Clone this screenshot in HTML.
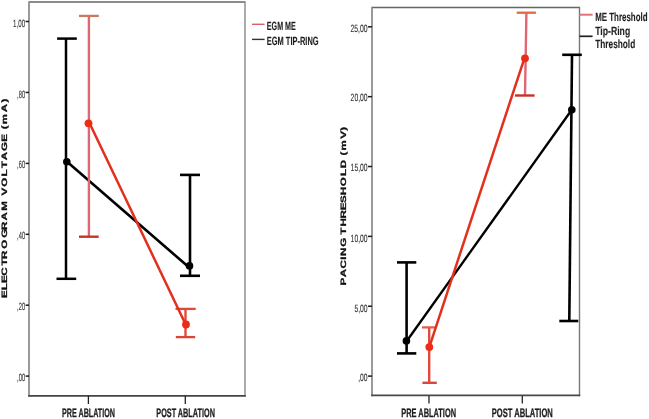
<!DOCTYPE html>
<html><head><meta charset="utf-8">
<style>
html,body{margin:0;padding:0;background:#fff;width:649px;height:419px;overflow:hidden}
svg{display:block;will-change:transform;filter:blur(0.3px)}
text{font-family:"Liberation Sans",sans-serif;text-rendering:geometricPrecision}
</style></head>
<body>
<svg width="649" height="419" viewBox="0 0 649 419">
<line x1="29" y1="1.9" x2="245" y2="1.9" stroke="#666" stroke-width="1.5"/>
<line x1="29" y1="1.2" x2="29" y2="396.6" stroke="#888" stroke-width="1.7"/>
<line x1="245" y1="1.2" x2="245" y2="396.6" stroke="#909090" stroke-width="1.5"/>
<line x1="28.2" y1="395.8" x2="245.8" y2="395.8" stroke="#444" stroke-width="1.8"/>
<line x1="25.6" y1="21.5" x2="29" y2="21.5" stroke="#1a1a1a" stroke-width="1.5"/>
<line x1="25.6" y1="92.45" x2="29" y2="92.45" stroke="#1a1a1a" stroke-width="1.5"/>
<line x1="25.6" y1="163.4" x2="29" y2="163.4" stroke="#1a1a1a" stroke-width="1.5"/>
<line x1="25.6" y1="234.3" x2="29" y2="234.3" stroke="#1a1a1a" stroke-width="1.5"/>
<line x1="25.6" y1="305.2" x2="29" y2="305.2" stroke="#1a1a1a" stroke-width="1.5"/>
<line x1="25.6" y1="376.1" x2="29" y2="376.1" stroke="#1a1a1a" stroke-width="1.5"/>
<line x1="88.4" y1="396" x2="88.4" y2="404" stroke="#222" stroke-width="1.3"/>
<line x1="185.3" y1="396" x2="185.3" y2="404" stroke="#222" stroke-width="1.3"/>
<text transform="translate(25.1,27.0) scale(0.6,1)" font-size="10.5" font-weight="normal" fill="#333" text-anchor="end" textLength="20.00" lengthAdjust="spacingAndGlyphs" stroke="#333" stroke-width="0.12">1,00</text>
<text transform="translate(25.1,97.9) scale(0.6,1)" font-size="10.5" font-weight="normal" fill="#333" text-anchor="end" textLength="13.33" lengthAdjust="spacingAndGlyphs" stroke="#333" stroke-width="0.12">,80</text>
<text transform="translate(25.1,168.4) scale(0.6,1)" font-size="10.5" font-weight="normal" fill="#333" text-anchor="end" textLength="13.33" lengthAdjust="spacingAndGlyphs" stroke="#333" stroke-width="0.12">,60</text>
<text transform="translate(25.1,239.3) scale(0.6,1)" font-size="10.5" font-weight="normal" fill="#333" text-anchor="end" textLength="13.33" lengthAdjust="spacingAndGlyphs" stroke="#333" stroke-width="0.12">,40</text>
<text transform="translate(25.1,310.1) scale(0.6,1)" font-size="10.5" font-weight="normal" fill="#333" text-anchor="end" textLength="13.33" lengthAdjust="spacingAndGlyphs" stroke="#333" stroke-width="0.12">,20</text>
<text transform="translate(25.1,381.0) scale(0.6,1)" font-size="10.5" font-weight="normal" fill="#333" text-anchor="end" textLength="13.33" lengthAdjust="spacingAndGlyphs" stroke="#333" stroke-width="0.12">,00</text>
<text transform="translate(62,416.5) scale(0.6,1)" font-size="12.3" font-weight="bold" fill="#1e1e1e" text-anchor="start" textLength="88.33" lengthAdjust="spacingAndGlyphs" stroke="#1e1e1e" stroke-width="0.3">PRE ABLATION</text>
<text transform="translate(156.3,416.5) scale(0.6,1)" font-size="12.3" font-weight="bold" fill="#1e1e1e" text-anchor="start" textLength="97.67" lengthAdjust="spacingAndGlyphs" stroke="#1e1e1e" stroke-width="0.3">POST ABLATION</text>
<text transform="translate(6.8,300.0) scale(0.675,1) rotate(-90)" font-size="11.6" font-weight="bold" fill="#111" x="2.02 9.65 16.92 24.23 34.26 41.10 51.19 62.21 70.05 79.52 89.27 98.93 104.43 113.24 123.50 131.66 139.67 149.06 158.37 166.11 170.83 175.82 187.67 197.40" y="0" stroke="#111" stroke-width="0.4">ELECTROGRAM VOLTAGE (mA)</text>
<line x1="252" y1="24.3" x2="264.6" y2="24.3" stroke="#d8606c" stroke-width="1.4"/>
<line x1="252" y1="39.4" x2="264.6" y2="39.4" stroke="#333" stroke-width="1.4"/>
<text transform="translate(266.8,29.6) scale(0.6,1)" font-size="12" font-weight="bold" fill="#1e1e1e" text-anchor="start" textLength="48.33" lengthAdjust="spacingAndGlyphs" stroke="#1e1e1e" stroke-width="0.12">EGM ME</text>
<text transform="translate(266.8,44.6) scale(0.6,1)" font-size="12" font-weight="bold" fill="#1e1e1e" text-anchor="start" textLength="86.33" lengthAdjust="spacingAndGlyphs" stroke="#1e1e1e" stroke-width="0.12">EGM TIP-RING</text>
<line x1="66.0" y1="38.6" x2="66.0" y2="278.8" stroke="#000" stroke-width="2.5"/>
<line x1="57.1" y1="38.6" x2="76.8" y2="38.6" stroke="#000" stroke-width="2.5"/>
<line x1="56.5" y1="278.8" x2="76.2" y2="278.8" stroke="#000" stroke-width="2.5"/>
<line x1="190" y1="174.9" x2="190" y2="275.8" stroke="#000" stroke-width="2.6"/>
<line x1="180" y1="174.9" x2="200" y2="174.9" stroke="#000" stroke-width="2.6"/>
<line x1="180" y1="275.8" x2="200" y2="275.8" stroke="#000" stroke-width="2.6"/>
<line x1="66.8" y1="161.5" x2="189.5" y2="267.8" stroke="#000" stroke-width="2.6"/>
<circle cx="66.8" cy="161.7" r="3.8" fill="#000"/>
<circle cx="189.5" cy="265.9" r="3.8" fill="#000"/>
<line x1="88.9" y1="15.8" x2="88.9" y2="236.8" stroke="#e06676" stroke-width="2.4"/>
<line x1="79" y1="15.9" x2="98.8" y2="15.9" stroke="#c97a5e" stroke-width="2.3"/>
<line x1="79" y1="236.7" x2="98.7" y2="236.7" stroke="#c83422" stroke-width="2.4"/>
<line x1="185.5" y1="308.9" x2="185.5" y2="337.1" stroke="#e24a3c" stroke-width="2.4"/>
<line x1="175.5" y1="308.9" x2="195.7" y2="308.9" stroke="#dc4c3a" stroke-width="2.3"/>
<line x1="175.8" y1="337.1" x2="195.2" y2="337.1" stroke="#d8463a" stroke-width="2.3"/>
<line x1="89.6" y1="123.3" x2="185.7" y2="324.5" stroke="#e2301c" stroke-width="2.5"/>
<circle cx="88.5" cy="123.3" r="3.9" fill="#ec2c14"/>
<circle cx="186" cy="324.5" r="3.9" fill="#ec2c14"/>
<line x1="372" y1="7.5" x2="579.4" y2="7.5" stroke="#666" stroke-width="1.6"/>
<line x1="372" y1="6.7" x2="372" y2="396.3" stroke="#888" stroke-width="1.7"/>
<line x1="579.5" y1="6.7" x2="579.5" y2="396.3" stroke="#777" stroke-width="1.4"/>
<line x1="371.2" y1="395.4" x2="580.2" y2="395.4" stroke="#484848" stroke-width="1.8"/>
<line x1="368.0" y1="26.8" x2="372" y2="26.8" stroke="#1a1a1a" stroke-width="1.5"/>
<line x1="368.0" y1="96.66" x2="372" y2="96.66" stroke="#1a1a1a" stroke-width="1.5"/>
<line x1="368.0" y1="166.52" x2="372" y2="166.52" stroke="#1a1a1a" stroke-width="1.5"/>
<line x1="368.0" y1="236.38" x2="372" y2="236.38" stroke="#1a1a1a" stroke-width="1.5"/>
<line x1="368.0" y1="306.24" x2="372" y2="306.24" stroke="#1a1a1a" stroke-width="1.5"/>
<line x1="368.0" y1="376.1" x2="372" y2="376.1" stroke="#1a1a1a" stroke-width="1.5"/>
<line x1="429" y1="396" x2="429" y2="403.5" stroke="#222" stroke-width="1.3"/>
<line x1="522.3" y1="396" x2="522.3" y2="403.5" stroke="#222" stroke-width="1.3"/>
<text transform="translate(367.6,31.85) scale(0.6,1)" font-size="10.5" font-weight="normal" fill="#333" text-anchor="end" textLength="28.67" lengthAdjust="spacingAndGlyphs" stroke="#333" stroke-width="0.12">25,00</text>
<text transform="translate(367.6,101.2) scale(0.6,1)" font-size="10.5" font-weight="normal" fill="#333" text-anchor="end" textLength="28.33" lengthAdjust="spacingAndGlyphs" stroke="#333" stroke-width="0.12">20,00</text>
<text transform="translate(367.6,171.2) scale(0.6,1)" font-size="10.5" font-weight="normal" fill="#333" text-anchor="end" textLength="28.33" lengthAdjust="spacingAndGlyphs" stroke="#333" stroke-width="0.12">15,00</text>
<text transform="translate(367.6,242.1) scale(0.6,1)" font-size="10.5" font-weight="normal" fill="#333" text-anchor="end" textLength="28.33" lengthAdjust="spacingAndGlyphs" stroke="#333" stroke-width="0.12">10,00</text>
<text transform="translate(367.6,312.1) scale(0.6,1)" font-size="10.5" font-weight="normal" fill="#333" text-anchor="end" textLength="22.00" lengthAdjust="spacingAndGlyphs" stroke="#333" stroke-width="0.12">5,00</text>
<text transform="translate(367.6,381.3) scale(0.6,1)" font-size="10.5" font-weight="normal" fill="#333" text-anchor="end" textLength="15.67" lengthAdjust="spacingAndGlyphs" stroke="#333" stroke-width="0.12">,00</text>
<text transform="translate(401.3,416.5) scale(0.6,1)" font-size="12.3" font-weight="bold" fill="#1e1e1e" text-anchor="start" textLength="91.17" lengthAdjust="spacingAndGlyphs" stroke="#1e1e1e" stroke-width="0.3">PRE ABLATION</text>
<text transform="translate(491.8,416.5) scale(0.6,1)" font-size="12.3" font-weight="bold" fill="#1e1e1e" text-anchor="start" textLength="101.67" lengthAdjust="spacingAndGlyphs" stroke="#1e1e1e" stroke-width="0.3">POST ABLATION</text>
<text transform="translate(346.1,300.0) scale(0.675,1) rotate(-90)" font-size="11.6" font-weight="bold" fill="#111" x="14.44 22.82 31.58 40.24 44.11 53.16 62.18 65.26 73.61 81.55 89.67 97.14 104.86 113.74 123.95 131.87 140.24 144.58 149.52 161.23 169.35" y="0" stroke="#111" stroke-width="0.4">PACING THRESHOLD (mV)</text>
<line x1="579.5" y1="14.7" x2="592.6" y2="14.7" stroke="#e4707c" stroke-width="2.0"/>
<line x1="579.5" y1="36.3" x2="592.6" y2="36.3" stroke="#222" stroke-width="1.7"/>
<text transform="translate(595.2,20.7) scale(0.6,1)" font-size="12" font-weight="bold" fill="#1e1e1e" text-anchor="start" textLength="87.17" lengthAdjust="spacingAndGlyphs" stroke="#1e1e1e" stroke-width="0.12">ME Threshold</text>
<text transform="translate(595.2,35.1) scale(0.6,1)" font-size="12" font-weight="bold" fill="#1e1e1e" text-anchor="start" textLength="58.33" lengthAdjust="spacingAndGlyphs" stroke="#1e1e1e" stroke-width="0.12">Tip-Ring</text>
<text transform="translate(595.2,47.9) scale(0.6,1)" font-size="12" font-weight="bold" fill="#1e1e1e" text-anchor="start" textLength="66.67" lengthAdjust="spacingAndGlyphs" stroke="#1e1e1e" stroke-width="0.12">Threshold</text>
<line x1="406.6" y1="262.4" x2="406.6" y2="353.4" stroke="#000" stroke-width="2.6"/>
<line x1="397" y1="262.4" x2="416.3" y2="262.4" stroke="#000" stroke-width="2.6"/>
<line x1="397" y1="353.4" x2="416.3" y2="353.4" stroke="#000" stroke-width="2.6"/>
<line x1="572" y1="54.8" x2="569.3" y2="321" stroke="#000" stroke-width="2.6"/>
<line x1="562.2" y1="54.8" x2="581.8" y2="54.8" stroke="#000" stroke-width="2.6"/>
<line x1="559.3" y1="321" x2="578.3" y2="321" stroke="#000" stroke-width="2.6"/>
<line x1="406.6" y1="341.2" x2="571.8" y2="109.8" stroke="#000" stroke-width="2.35"/>
<circle cx="406.4" cy="340.9" r="3.8" fill="#000"/>
<circle cx="571.8" cy="109.8" r="3.8" fill="#000"/>
<line x1="526.4" y1="12.7" x2="525" y2="95.5" stroke="#e06676" stroke-width="2.4"/>
<line x1="516.7" y1="12.7" x2="535.9" y2="12.7" stroke="#e06a42" stroke-width="2.3"/>
<line x1="515" y1="95.5" x2="534.6" y2="95.5" stroke="#c83028" stroke-width="2.4"/>
<line x1="429.2" y1="327.4" x2="429.2" y2="382.8" stroke="#e24a3c" stroke-width="2.4"/>
<line x1="422" y1="327.4" x2="436" y2="327.4" stroke="#e0604e" stroke-width="2.3"/>
<line x1="422.4" y1="382.8" x2="436.8" y2="382.8" stroke="#d84840" stroke-width="2.4"/>
<line x1="429.3" y1="347.1" x2="524.4" y2="58.3" stroke="#e2301c" stroke-width="2.5"/>
<circle cx="429.3" cy="347.1" r="3.9" fill="#ec2c14"/>
<circle cx="525" cy="58.3" r="3.9" fill="#ec2c14"/>
</svg>
</body></html>
